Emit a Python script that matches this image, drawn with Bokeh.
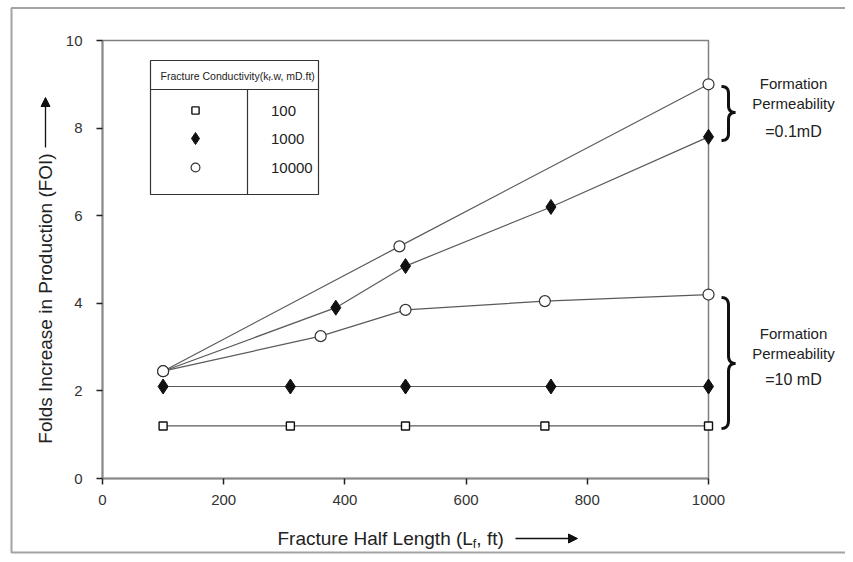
import math
from bokeh.plotting import figure
from bokeh.models import (Range1d, Label, Arrow, NormalHead, PolyAnnotation,
                          BoxAnnotation, Legend, LegendItem, FixedTicker)
from bokeh.embed import file_html
from bokeh.resources import INLINE

# ---------------- data ----------------
x_ticks = [0, 200, 400, 600, 800, 1000]
y_ticks = [0, 2, 4, 6, 8, 10]

# Formation permeability = 10 mD
len_c100_k10 = [100, 310, 500, 730, 1000]
foi_c100_k10 = [1.2, 1.2, 1.2, 1.2, 1.2]
len_c1000_k10 = [100, 310, 500, 740, 1000]
foi_c1000_k10 = [2.1, 2.1, 2.1, 2.1, 2.1]
len_c10000_k10 = [100, 360, 500, 730, 1000]
foi_c10000_k10 = [2.45, 3.25, 3.85, 4.05, 4.2]

# Formation permeability = 0.1 mD (first point shared with the open-circle start)
len_c1000_k01 = [100, 385, 500, 740, 1000]
foi_c1000_k01 = [2.45, 3.9, 4.85, 6.2, 7.8]
len_c10000_k01 = [100, 490, 1000]
foi_c10000_k01 = [2.45, 5.3, 9.0]

legend_labels = ["100", "1000", "10000"]

FONT = "Liberation Sans"

# ---------------- geometry (canvas px) ----------------
W, H = 845, 554
AX_L, AX_R, AX_T, AX_B = 102, 708, 40, 478      # where 0/1000 and 10/0 fall
PX_X = (AX_R - AX_L) / 1000.0
PX_Y = (AX_B - AX_T) / 10.0
x_lo, x_hi = -AX_L / PX_X, (W - AX_L) / PX_X
y_lo, y_hi = -(H - AX_B) / PX_Y, AX_B / PX_Y

p = figure(width=W, height=H, x_range=Range1d(x_lo, x_hi), y_range=Range1d(y_lo, y_hi),
           output_backend="svg", toolbar_location=None,
           min_border_left=0, min_border_right=0, min_border_top=0, min_border_bottom=0)
p.background_fill_color = "white"
p.border_fill_color = "white"
p.xgrid.visible = False
p.ygrid.visible = False
p.outline_line_alpha = 0

for ax, ticks, bounds in ((p.xaxis, x_ticks, (0, 1000)), (p.yaxis, y_ticks, (0, 10))):
    ax.ticker = FixedTicker(ticks=ticks)
    ax.fixed_location = 0
    ax.bounds = bounds
    ax.axis_line_color = "#8a8a8a"
    ax.axis_line_width = 2
    ax.major_tick_line_color = "#222"
    ax.major_tick_line_width = 1.5
    ax.major_tick_out = 6
    ax.major_tick_in = 0
    ax.minor_tick_out = 0
    ax.minor_tick_in = 0
    ax.major_label_text_font = FONT
    ax.major_label_text_font_size = "15px"
    ax.major_label_text_color = "#333"
p.xaxis.major_label_standoff = 10
p.yaxis.major_label_standoff = 14

# plot box (top / right edges)
p.add_layout(BoxAnnotation(left=0, right=1000, bottom=0, top=10, fill_alpha=0,
                           line_color="#808080", line_width=1.5, line_alpha=1,
                           level="underlay"))

def sx(xc):
    return xc

def sy(yc):
    return H - yc

# ---------------- series ----------------
LINE = dict(line_color="#5a5a5a", line_width=1.2)
p.line(len_c100_k10, foi_c100_k10, **LINE)
p.line(len_c1000_k10, foi_c1000_k10, **LINE)
p.line(len_c10000_k10, foi_c10000_k10, **LINE)
p.line(len_c1000_k01, foi_c1000_k01, **LINE)
p.line(len_c10000_k01, foi_c10000_k01, **LINE)

SQ = dict(marker="square", size=8, fill_color="white", line_color="#111", line_width=1.4)
DI = dict(marker="diamond", size=15, fill_color="#111", line_color="#111")
CI = dict(marker="circle", size=11, fill_color="white", line_color="#333", line_width=1.2)

r_sq = p.scatter(len_c100_k10, foi_c100_k10, **SQ)
r_di = p.scatter(len_c1000_k10, foi_c1000_k10, **DI)
p.scatter(len_c1000_k01[1:], foi_c1000_k01[1:], **DI)
r_ci = p.scatter(len_c10000_k10, foi_c10000_k10, **CI)
p.scatter(len_c10000_k01, foi_c10000_k01, **CI)

# ---------------- helpers ----------------
def poly(pts, color, w):
    path = pts + pts[::-1]
    p.add_layout(PolyAnnotation(xs=[sx(a) for a, b in path], ys=[sy(b) for a, b in path],
                                xs_units="screen", ys_units="screen",
                                fill_alpha=0, line_color=color, line_width=w, line_alpha=1))

# ---------------- outer border ----------------
p.add_layout(PolyAnnotation(xs=[sx(11), sx(11), sx(900), sx(900)],
                            ys=[sy(552), sy(7.5), sy(7.5), sy(552)],
                            xs_units="screen", ys_units="screen",
                            fill_alpha=0, line_color="#a3a3a3", line_width=2, line_alpha=1))

# ---------------- legend table ----------------
p.add_layout(BoxAnnotation(left=sx(150), right=sx(318), top=sy(60), bottom=sy(194),
                           left_units="screen", right_units="screen",
                           top_units="screen", bottom_units="screen",
                           fill_color="white", fill_alpha=1, line_color="#333",
                           line_width=1.2, line_alpha=1))
poly([(150, 89), (318, 89)], "#333", 1.2)
poly([(247, 89), (247, 194)], "#333", 1.2)

MARK_X, LABEL_X = 195, 271
for lab, rend, yc, g in ((legend_labels[0], r_sq, 110, 18),
                         (legend_labels[1], r_di, 138, 30),
                         (legend_labels[2], r_ci, 167, 22)):
    lg = Legend(items=[LegendItem(label=lab, renderers=[rend])],
                location=(MARK_X - g / 2, H - (yc + g / 2)),
                border_line_alpha=0, background_fill_alpha=0, padding=0, margin=0,
                spacing=0, glyph_width=g, glyph_height=g, label_height=g,
                label_standoff=int(LABEL_X - MARK_X - g / 2),
                label_text_font=FONT, label_text_font_size="15px",
                label_text_color="#222")
    p.add_layout(lg)

# Arial metrics (1/1000 em)
AW = {' ': 278, '(': 333, ')': 333, ',': 278, '.': 278, '=': 584,
      'C': 722, 'D': 722, 'F': 611, 'H': 722, 'I': 278, 'L': 556, 'O': 778, 'P': 667,
      'a': 556, 'b': 556, 'c': 500, 'd': 556, 'e': 556, 'f': 278, 'g': 556, 'h': 556,
      'i': 222, 'k': 500, 'l': 222, 'm': 833, 'n': 556, 'o': 556, 'r': 333, 's': 500,
      't': 278, 'u': 556, 'v': 500, 'w': 722, 'y': 500}

def tw(s, size):
    return sum(AW.get(c, 556) for c in s) / 1000.0 * size

def label(x, y, text, size, align="left", angle=0.0, color="#222"):
    p.add_layout(Label(x=sx(x), y=sy(y), x_units="screen", y_units="screen",
                       text=text, text_font=FONT, text_font_size=f"{size}px",
                       text_align=align, text_baseline="middle", angle=angle,
                       text_color=color))

def runs(x0, yc, parts):
    x = x0
    for text, size, off in parts:
        label(x, yc + off, text, size)
        x += tw(text, size)
    return x

runs(160, 75, [("Fracture Conductivity(k", 10.5, 0), ("f", 7.5, 3), (".w, mD.ft)", 10.5, 0)])

# ---------------- axis titles ----------------
runs(277, 538, [("Fracture Half Length (L", 19, 0), ("f", 12.5, 5), (", ft)", 19, 0)])
p.add_layout(Arrow(x_start=sx(515), y_start=sy(538), x_end=sx(577), y_end=sy(538),
                   start_units="screen", end_units="screen",
                   line_color="#111", line_width=1.3,
                   end=NormalHead(size=9, fill_color="#111", line_color="#111")))

label(45, 298, "Folds Increase in Production (FOI)", 19, align="center", angle=math.pi / 2)
p.add_layout(Arrow(x_start=sx(45), y_start=sy(147), x_end=sx(45), y_end=sy(97),
                   start_units="screen", end_units="screen",
                   line_color="#111", line_width=1.3,
                   end=NormalHead(size=9, fill_color="#111", line_color="#111")))

# ---------------- braces + annotations ----------------
def qbez(p0, p1, p2, n=8):
    pts = []
    for i in range(n + 1):
        t = i / n
        x = (1 - t) ** 2 * p0[0] + 2 * (1 - t) * t * p1[0] + t * t * p2[0]
        y = (1 - t) ** 2 * p0[1] + 2 * (1 - t) * t * p1[1] + t * t * p2[1]
        pts.append((x, y))
    return pts

def brace(xl, xv, xm, yt, ym, yb, r):
    pts = []
    pts += qbez((xl, yt), (xv, yt), (xv, yt + r))
    pts += [(xv, ym - r)]
    pts += qbez((xv, ym - r), (xv, ym), (xm, ym))
    pts += qbez((xm, ym), (xv, ym), (xv, ym + r))
    pts += [(xv, yb - r)]
    pts += qbez((xv, yb - r), (xv, yb), (xl, yb))
    poly(pts, "#111", 3)

brace(721, 728, 735, 86, 112, 140, 7)
brace(721, 728, 735, 297, 363, 428, 8)

label(793, 83, "Formation", 15, align="center")
label(793, 103, "Permeability", 15, align="center")
label(793, 131, "=0.1mD", 16, align="center")
label(793, 333, "Formation", 15, align="center")
label(793, 353, "Permeability", 15, align="center")
label(793, 379, "=10 mD", 16, align="center")

open("out.html", "w").write(file_html(p, INLINE))
